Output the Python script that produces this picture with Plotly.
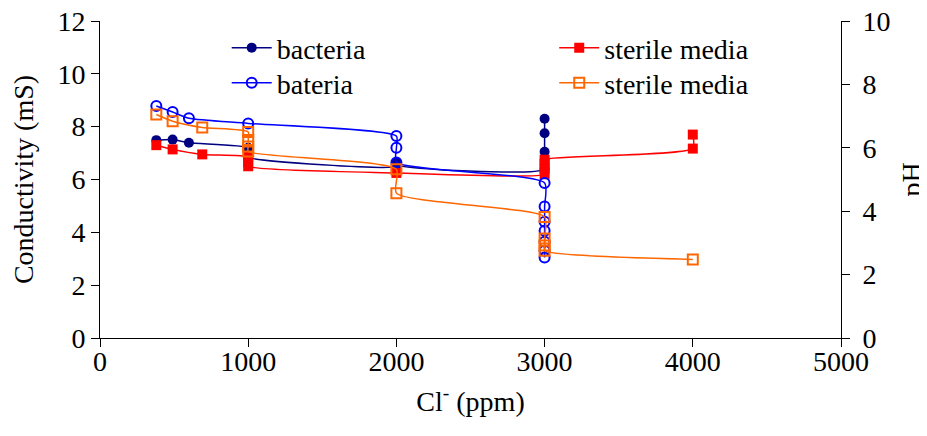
import plotly.graph_objects as go

# bacteria - conductivity (mS), left axis
bac_x = [380, 490, 600, 1000, 1000, 1000, 2000, 2000, 2000, 3000, 3000, 3000, 3000]
bac_y = [7.49, 7.51, 7.39, 7.2, 7.0, 6.85, 6.5, 6.65, 6.55, 6.4, 7.05, 7.75, 8.3]

# bateria - pH, right axis
bat_x = [380, 490, 600, 1000, 2000, 2000, 2000, 3000, 3000, 3000, 3000, 3000, 3000, 3000]
bat_y = [7.32, 7.13, 6.93, 6.77, 6.37, 6.0, 5.54, 4.89, 4.15, 3.67, 3.38, 3.04, 2.75, 2.54]

# sterile media - conductivity (mS), left axis
ster_x = [380, 490, 690, 1000, 1000, 1000, 2000, 3000, 3000, 3000, 3000, 4000, 4000]
ster_y = [7.30, 7.14, 6.95, 6.85, 6.65, 6.5, 6.25, 6.2, 6.4, 6.6, 6.75, 7.17, 7.7]

# sterile media - pH, right axis
sph_x = [380, 490, 690, 1000, 1000, 1000, 1000, 2000, 2000, 3000, 3000, 3000, 3000, 4000]
sph_y = [7.05, 6.84, 6.64, 6.5, 6.25, 6.04, 5.88, 5.32, 4.57, 3.82, 3.14, 2.92, 2.75, 2.48]

FONT = "Liberation Serif, Times New Roman, serif"
FS = 28

fig = go.Figure()
fig.add_trace(go.Scatter(x=bac_x, y=bac_y, name="bacteria", mode="lines+markers",
                         line=dict(color="#000080", width=1.5, shape="spline", smoothing=0.6),
                         marker=dict(symbol="circle", size=10, color="#000080"),
                         legend="legend", showlegend=True))
fig.add_trace(go.Scatter(x=bat_x, y=bat_y, name="bateria", mode="lines+markers", yaxis="y2",
                         line=dict(color="#0000FF", width=1.5, shape="spline", smoothing=0.6),
                         marker=dict(symbol="circle-open", size=10, color="#0000FF", line=dict(width=2)),
                         legend="legend3", showlegend=True))
fig.add_trace(go.Scatter(x=ster_x, y=ster_y, name="sterile media", mode="lines+markers",
                         line=dict(color="#FF0000", width=1.5, shape="spline", smoothing=0.6),
                         marker=dict(symbol="square", size=10, color="#FF0000"),
                         legend="legend2", showlegend=True))
fig.add_trace(go.Scatter(x=sph_x, y=sph_y, name="sterile media", mode="lines+markers", yaxis="y2",
                         line=dict(color="#FF6600", width=1.5, shape="spline", smoothing=0.6),
                         marker=dict(symbol="square-open", size=10, color="#FF6600", line=dict(width=2)),
                         legend="legend4", showlegend=True))

axis_common = dict(showline=True, linecolor="black", linewidth=1, ticks="outside",
                   ticklen=8, tickcolor="black", showgrid=False, zeroline=False,
                   automargin=False, ticklabeloverflow="allow",
                   tickfont=dict(family=FONT, size=FS, color="black"))

leg = dict(xanchor="left", yanchor="middle", bgcolor="rgba(0,0,0,0)",
           font=dict(family=FONT, size=FS), itemwidth=40, visible=True)

fig.update_layout(
    width=919, height=428,
    margin=dict(l=92, r=86, t=13, b=98),
    paper_bgcolor="white", plot_bgcolor="white",
    showlegend=True,
    font=dict(family=FONT, size=FS, color="black"),
    xaxis=dict(range=[0, 5000], tickvals=[0, 1000, 2000, 3000, 4000, 5000],
               ticklabelstandoff=-10,
               title=dict(text="Cl<sup>-</sup> (ppm)", font=dict(family=FONT, size=FS)),
               **axis_common),
    yaxis=dict(range=[0, 12], tickvals=[0, 2, 4, 6, 8, 10, 12],
               title=dict(text="Conductivity (mS)", font=dict(family=FONT, size=FS)),
               **axis_common),
    yaxis2=dict(range=[0, 10], tickvals=[0, 2, 4, 6, 8, 10], overlaying="y", side="right",
                ticklabelstandoff=7,
                title=dict(text="pH", font=dict(family=FONT, size=FS)),
                **axis_common),
    legend=dict(x=0.171, y=0.915, **leg),
    legend3=dict(x=0.171, y=0.804, **leg),
    legend2=dict(x=0.613, y=0.915, **leg),
    legend4=dict(x=0.613, y=0.804, **leg),
)

fig.write_html("out.html")
